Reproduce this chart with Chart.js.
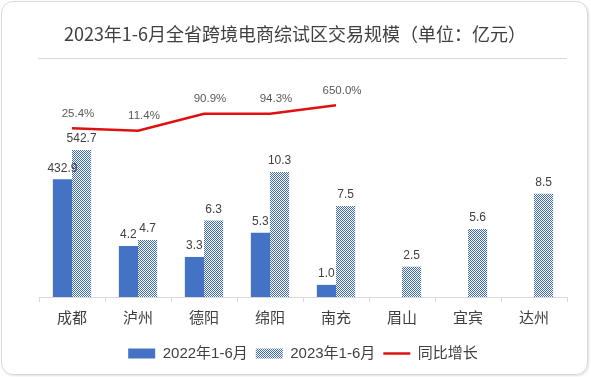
<!DOCTYPE html>
<html lang="zh">
<head>
<meta charset="UTF-8">
<title>2023年1-6月全省跨境电商综试区交易规模</title>
<script src="https://cdn.jsdelivr.net/npm/chart.js"></script>
<style>
    html, body { margin: 0; padding: 0; background: #fff; }
    #wrap { width: 591px; height: 377px; position: relative; }
    #frame {
        position: absolute; left: 1px; top: 1px; width: 585px; height: 372px;
        border: 1px solid #d9d9d9; border-radius: 12px;
        box-shadow: 1px 1px 2px rgba(0,0,0,0.12);
    }
    canvas { position: absolute; left: 0; top: 0; }
</style>
</head>
<body>
<div id="wrap">
    <div id="frame"></div>
    <canvas id="chart" width="591" height="377"></canvas>
</div>
<script>
const cities = ['成都', '泸州', '德阳', '绵阳', '南充', '眉山', '宜宾', '达州'];
// values printed on the bars
const value2022 = [432.9, 4.2, 3.3, 5.3, 1.0, null, null, null];
const value2023 = [542.7, 4.7, 6.3, 10.3, 7.5, 2.5, 5.6, 8.5];
// bar heights as drawn in the picture (成都 is drawn shortened)
const height2022 = [9.7, 4.2, 3.3, 5.3, 1.0, null, null, null];
const height2023 = [12.1, 4.7, 6.3, 10.3, 7.5, 2.5, 5.6, 8.5];
// growth labels and the line heights
const growthText = ['25.4%', '11.4%', '90.9%', '94.3%', '650.0%', null, null, null];
const growthHeight = [13.9, 13.7, 15.1, 15.1, 15.8, null, null, null];

const BLUE = '#4472C4';
const RED = '#E01010';
const FONT = '"Liberation Sans", "Noto Sans CJK SC", sans-serif';

function makeHatch() {
    const c = document.createElement('canvas');
    c.width = 2; c.height = 2;
    const g = c.getContext('2d');
    g.fillStyle = '#fff';
    g.fillRect(0, 0, 2, 2);
    g.fillStyle = '#3E68B8';
    g.fillRect(0, 0, 1, 1);
    g.fillRect(1, 1, 1, 1);
    return g.createPattern(c, 'repeat');
}
const hatch = makeHatch();

const decor = {
    id: 'decor',
    afterDraw(chart) {
        const ctx = chart.ctx;
        ctx.save();
        // title and rule under it
        ctx.fillStyle = '#404040';
        ctx.font = '18px "Noto Sans CJK SC", sans-serif';
        ctx.textAlign = 'center';
        ctx.textBaseline = 'middle';
        ctx.fillText('2023年1-6月全省跨境电商综试区交易规模（单位：亿元）', 295, 34);
        ctx.strokeStyle = '#d9d9d9';
        ctx.lineWidth = 1;
        ctx.beginPath();
        ctx.moveTo(38, 58.5);
        ctx.lineTo(567, 58.5);
        ctx.stroke();

        // bar value labels
        ctx.font = '12px ' + FONT;
        ctx.fillStyle = '#404040';
        ctx.textBaseline = 'bottom';
        [[0, value2022], [1, value2023]].forEach(([di, vals]) => {
            chart.getDatasetMeta(di).data.forEach((bar, i) => {
                if (vals[i] == null) return;
                ctx.fillText(vals[i].toFixed(1), bar.x, bar.y - 5);
            });
        });
        // growth labels
        ctx.font = '11.5px ' + FONT;
        ctx.fillStyle = '#595959';
        chart.getDatasetMeta(2).data.forEach((pt, i) => {
            if (growthText[i] == null) return;
            ctx.fillText(growthText[i], pt.x + 6, pt.y - 9);
        });
        ctx.restore();
    }
};

new Chart(document.getElementById('chart'), {
    type: 'bar',
    data: {
        labels: cities,
        datasets: [
            {
                label: '2022年1-6月', data: height2022, backgroundColor: BLUE,
                pointStyle: 'rect', order: 2
            },
            {
                label: '2023年1-6月', data: height2023, backgroundColor: hatch,
                pointStyle: 'rect', order: 2
            },
            {
                type: 'line', label: '同比增长', data: growthHeight,
                borderColor: RED, backgroundColor: RED, borderWidth: 2.5,
                pointRadius: 0, pointStyle: 'line', tension: 0, order: 1, spanGaps: false
            }
        ]
    },
    options: {
        responsive: false,
        animation: false,
        layout: { padding: { left: 39, right: 24, top: 70, bottom: 6 } },
        datasets: { bar: { categoryPercentage: 0.58, barPercentage: 1.0 } },
        scales: {
            x: {
                offset: true,
                grid: { display: true, drawOnChartArea: false, offset: true, tickLength: 5, color: '#d9d9d9' },
                border: { display: true, color: '#d9d9d9' },
                ticks: { color: '#404040', font: { size: 15, family: '"Noto Sans CJK SC", sans-serif' }, padding: 6 },
                afterFit(scale) { scale.height += 6; }
            },
            y: { display: false, min: 0, max: 18.7 }
        },
        plugins: {
            title: { display: false },
            tooltip: { enabled: false },
            legend: {
                position: 'bottom',
                labels: {
                    usePointStyle: true, pointStyleWidth: 27, boxHeight: 10,
                    padding: 8, color: '#404040',
                    font: { size: 15, family: FONT },
                    sort: (a, b) => a.datasetIndex - b.datasetIndex
                }
            }
        }
    },
    plugins: [decor]
});
</script>
</body>
</html>
